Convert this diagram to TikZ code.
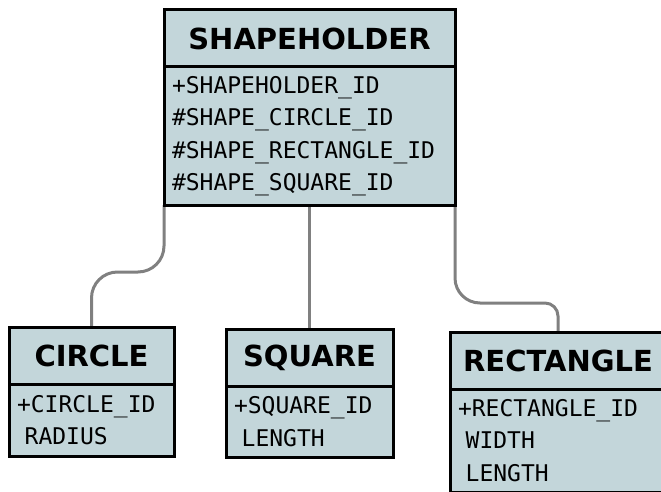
\documentclass[tikz,border=0pt]{standalone}
\usepackage{fontspec}
\usetikzlibrary{positioning,backgrounds}
\newfontfamily\ERsans{DejaVu Sans}
\newfontfamily\ERmono{DejaVu Sans Mono}
\definecolor{ERfill}{RGB}{195,214,218}
\definecolor{ERgrey}{RGB}{128,128,128}

\newcommand\ERheadH{57}

\tikzset{
 ERtitle/.style={draw, line width=3pt, fill=ERfill, outer sep=0pt, inner sep=0pt,
   anchor=north west, minimum height=\ERheadH,
   font=\ERsans\bfseries\fontsize{29}{31}\selectfont},
 ERattr/.style={draw, line width=3pt, fill=ERfill, outer sep=0pt, inner xsep=8pt,
   inner ysep=0pt, align=left, font=\ERmono\fontsize{23}{32.5}\selectfont},
 ERlink/.style={draw=ERgrey, line width=3pt}
}

\begin{document}
\begin{tikzpicture}[x=1pt,y=-1pt]

\useasboundingbox (0,0) rectangle (661,492);

\coordinate (HO) at (164,10);
\coordinate (CI) at (9,327);
\coordinate (SQ) at (226,329);
\coordinate (RE) at (450,332);

 \node[ERtitle, minimum width=291] (holder) at (HO) {SHAPEHOLDER};
 \node[ERattr, below=0pt of holder, text width=275, minimum height=138] (holder-attr)
   {+SHAPEHOLDER\_ID\\\#SHAPE\_CIRCLE\_ID\\\#SHAPE\_RECTANGLE\_ID\\\#SHAPE\_SQUARE\_ID};

 \node[ERtitle, minimum width=165] (circle) at (CI) {CIRCLE};
 \node[ERattr, below=0pt of circle, text width=149, minimum height=72] (circle-attr)
   {+CIRCLE\_ID\\\ RADIUS};

 \node[ERtitle, minimum width=167] (square) at (SQ) {SQUARE};
 \node[ERattr, below=0pt of square, text width=151, minimum height=71] (square-attr)
   {+SQUARE\_ID\\\ LENGTH};

 \node[ERtitle, minimum width=216] (rect) at (RE) {RECTANGLE};
 \node[ERattr, below=0pt of rect, text width=200, minimum height=103] (rect-attr)
   {+RECTANGLE\_ID\\\ WIDTH\\\ LENGTH};

\begin{scope}[on background layer]
 \draw[ERlink, rounded corners=26pt] (holder-attr.south west) -- ++(0,67) -| (circle.north);
 \draw[ERlink] (holder-attr.south) -- (square.north);
 \draw[ERlink, rounded corners=25pt] (holder-attr.south east) -- ++(0,98)
   [rounded corners=13pt] -| (rect.north);
\end{scope}

\end{tikzpicture}
\end{document}
